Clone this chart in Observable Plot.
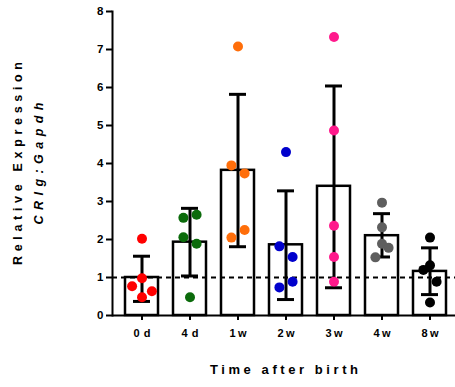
<!DOCTYPE html>
<html>
<head>
<meta charset="utf-8">
<script src="https://cdn.jsdelivr.net/npm/d3@7"></script>
<script src="https://cdn.jsdelivr.net/npm/@observablehq/plot@0.6"></script>
<style>
  html, body { margin: 0; padding: 0; background: #fff; }
  svg { font-family: "Liberation Sans", Arial, sans-serif; font-weight: bold; }
</style>
</head>
<body>
<div id="chart"></div>
<script>
const categories = ["0d", "4d", "1w", "2w", "3w", "4w", "8w"];
const means   = [1.00, 1.93, 3.82, 1.86, 3.40, 2.10, 1.16];
const errHigh = [1.56, 2.82, 5.82, 3.28, 6.04, 2.68, 1.78];
const errLow  = [0.37, 1.04, 1.81, 0.42, 0.73, 1.54, 0.55];
const colors  = ["#ff0000", "#0b6b0b", "#ff6e0a", "#0000cc", "#ff1a8c", "#5e5e5e", "#000000"];

const values0d = [2.02, 0.98, 0.77, 0.64, 0.48];
const values4d = [2.57, 2.65, 2.06, 1.89, 0.48];
const values1w = [7.08, 3.95, 3.74, 2.25, 2.05];
const values2w = [4.30, 1.82, 1.54, 0.89, 0.74];
const values3w = [7.33, 4.87, 2.36, 1.54, 0.89];
const values4w = [2.97, 2.32, 1.89, 1.78, 1.53];
const values8w = [2.05, 1.32, 1.20, 0.89, 0.34];
// horizontal scatter side of each point (-1 left, 0 centre, 1 right)
const sides0d = [0, 0, -1.5, 1.5, 0];
const sides4d = [-1, 1, -1, 1, 0];
const sides1w = [0, -1, 1, 1, -1];
const sides2w = [0, -1, 1, 1, -1];
const sides3w = [0, 0, 0, 0, 0];
const sides4w = [0, 0, 0, 1, -1];
const sides8w = [0, 0, -1, 1, 0];

const yTicks = [0, 1, 2, 3, 4, 5, 6, 7, 8];
const xTitle = "Time after birth";
const yTitle1 = "Relative Expression";
const yTitle2 = "CRIg:Gapdh";

const allValues = [values0d, values4d, values1w, values2w, values3w, values4w, values8w];
const allSides = [sides0d, sides4d, sides1w, sides2w, sides3w, sides4w, sides8w];

const summary = categories.map((c, i) => ({group: c, mean: means[i], hi: errHigh[i], lo: errLow[i]}));
const points = [];
categories.forEach((c, i) => allValues[i].forEach((v, j) => points.push({group: c, value: v, side: allSides[i][j], color: colors[i]})));
const sideSet = [-1.5, -1, 0, 1, 1.5];

const chart = Plot.plot({
  width: 455,
  height: 387,
  marginLeft: 112,
  marginRight: 0,
  marginTop: 11,
  marginBottom: 72,
  x: {type: "band", domain: categories, range: [116, 455], paddingInner: 0.32, paddingOuter: 0.16, axis: null},
  y: {domain: [0, 8], axis: null},
  marks: [
    Plot.barY(summary, {x: "group", y: "mean", fill: "white", stroke: "black", strokeWidth: 2.5}),
    Plot.ruleY([1], {stroke: "black", strokeWidth: 2, strokeDasharray: "5,4"}),
    Plot.ruleX(summary, {x: "group", y1: "lo", y2: "hi", stroke: "black", strokeWidth: 3}),
    Plot.tickY(summary, {x: "group", y: "hi", stroke: "black", strokeWidth: 3, insetLeft: 8, insetRight: 8}),
    Plot.tickY(summary, {x: "group", y: "lo", stroke: "black", strokeWidth: 3, insetLeft: 8, insetRight: 8}),
    ...sideSet.map(s => Plot.dot(points.filter(d => d.side === s), {x: "group", y: "value", fill: d => d.color, r: 5, dx: s * 6.6})),
    Plot.ruleY([0], {stroke: "black", strokeWidth: 2}),
    Plot.frame({anchor: "left", stroke: "black", strokeWidth: 2}),
    Plot.axisY(yTicks, {tickSize: 6, tickPadding: 3, tickFormat: d3.format("d"), fontSize: 11.5, fontWeight: "bold", label: null, strokeWidth: 2}),
    Plot.axisX({tickSize: 5, tickPadding: 9, fontSize: 11, fontWeight: "bold", label: null, strokeWidth: 2}),
    Plot.text([xTitle], {frameAnchor: "bottom", dy: 58, fontSize: 13, fontWeight: "bold", fill: "black"}),
    Plot.text([yTitle1], {frameAnchor: "middle", textAnchor: "middle", lineAnchor: "middle", dx: -266, rotate: -90, fontSize: 12.5, fontWeight: "bold", fill: "black"}),
    Plot.text([yTitle2], {frameAnchor: "middle", textAnchor: "middle", lineAnchor: "middle", dx: -245, rotate: -90, fontSize: 12.5, fontWeight: "bold", fontStyle: "italic", fill: "black"})
  ]
});
document.getElementById("chart").appendChild(chart);

const svg = d3.select(chart);
svg.selectAll("text").each(function() {
  const t = this.textContent;
  const sel = d3.select(this);
  let len = null;
  if (t === xTitle) len = 148;
  else if (t === yTitle1) len = 203;
  else if (t === yTitle2) len = 122;
  else if (categories.includes(t)) len = 17;
  if (len) sel.attr("textLength", len).attr("lengthAdjust", "spacing");
});
</script>
</body>
</html>
